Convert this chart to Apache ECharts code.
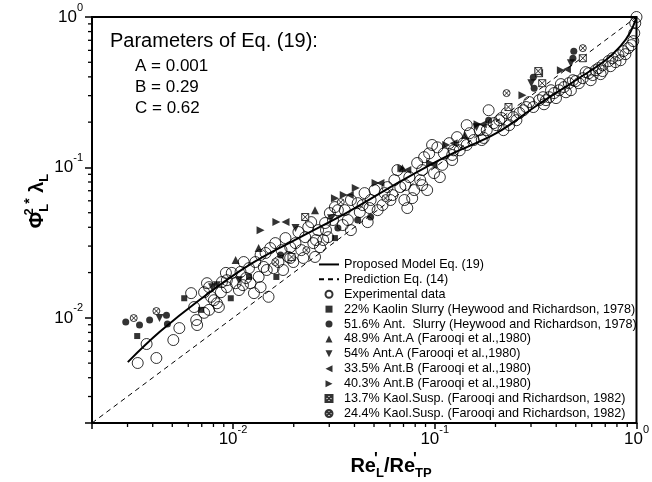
<!DOCTYPE html>
<html>
<head>
<meta charset="utf-8">
<script src="https://cdn.jsdelivr.net/npm/echarts@6/dist/echarts.min.js"></script>
<style>html,body{margin:0;padding:0;background:#fff;}#c{width:652px;height:482px;}</style>
</head>
<body>
<div id="c"></div>
<script>
// ---- data ----
const xMinorTicks = [0.003,0.004,0.005,0.006,0.007,0.008,0.009,0.02,0.03,0.04,0.05,0.06,0.07,0.08,0.09,0.2,0.3,0.4,0.5,0.6,0.7,0.8,0.9];
const yMinorTicks = [0.003,0.004,0.005,0.006,0.007,0.008,0.009,0.02,0.03,0.04,0.05,0.06,0.07,0.08,0.09,0.2,0.3,0.4,0.5,0.6,0.7,0.8,0.9];

const modelCurve = [[0.00301,0.00508],[0.00432,0.00804],[0.00679,0.0131],[0.012,0.0224],[0.0211,0.0339],[0.0371,0.0505],[0.0653,0.0787],[0.115,0.119],[0.202,0.169],[0.318,0.256],[0.5,0.38],[0.703,0.516],[0.833,0.64],[0.932,0.793],[1.0,1.0]];
const predictionLine = [[0.002,0.002],[1,1]];

const expData = [
[0.00337,0.00501],[0.00417,0.00541],[0.00373,0.0067],[0.00506,0.00712],[0.00542,0.00855],
[0.0062,0.0146],[0.00642,0.0118],[0.00657,0.00967],[0.00664,0.00896],[0.00719,0.0108],
[0.00761,0.0113],[0.00743,0.017],[0.00778,0.0138],[0.00832,0.0125],[0.00871,0.0148],
[0.00881,0.0173],[0.00922,0.0199],[0.00932,0.016],[0.00851,0.0118],[0.00719,0.0148],
[0.00761,0.016],[0.00932,0.0178],[0.00986,0.0199],[0.0103,0.017],[0.0109,0.0202],
[0.0116,0.0184],[0.012,0.0214],[0.0127,0.0146],[0.0129,0.0235],[0.0134,0.0187],
[0.0142,0.0218],[0.015,0.0138],[0.0145,0.027],[0.0153,0.0291],[0.0162,0.0314],
[0.0168,0.0235],[0.0174,0.0282],[0.0182,0.0339],[0.0188,0.0254],[0.0204,0.0314],
[0.0211,0.0372],[0.0218,0.0282],[0.0228,0.0344],[0.0236,0.0401],[0.0244,0.0433],
[0.025,0.0314],[0.0255,0.0254],[0.0264,0.0383],[0.028,0.0329],[0.0286,0.0427],
[0.0296,0.0344],[0.0302,0.0497],[0.0313,0.0447],[0.032,0.0545],[0.0331,0.052],
[0.0358,0.052],[0.0384,0.0607],[0.0384,0.0383],[0.0415,0.0579],[0.0449,0.0675],
[0.0481,0.0607],[0.0503,0.0707],[0.0521,0.052],[0.0564,0.0675],[0.0583,0.074],
[0.0631,0.0823],[0.0653,0.096],[0.0675,0.074],[0.0707,0.0607],[0.0731,0.0537],
[0.0748,0.0862],[0.0791,0.0707],[0.0818,0.107],[0.0847,0.0823],[0.0886,0.117],
[0.0917,0.0707],[0.0938,0.124],[0.0992,0.0917],[0.103,0.136],[0.106,0.0862],
[0.111,0.124],[0.118,0.145],[0.124,0.13],[0.129,0.159],[0.139,0.145],
[0.149,0.169],[0.156,0.152],[0.167,0.177],[0.181,0.177],[0.185,0.24],
[0.196,0.197],[0.209,0.206],[0.219,0.177],[0.227,0.23],[0.245,0.216],
[0.263,0.23],[0.284,0.252],[0.308,0.252],[0.329,0.28],[0.344,0.293],
[0.369,0.293],[0.39,0.312],[0.413,0.326],[0.437,0.342],[0.462,0.363],
[0.484,0.38],[0.5,0.375],[0.542,0.392],[0.58,0.423],[0.628,0.443],
[0.679,0.478],[0.727,0.509],[0.76,0.532],[0.814,0.557],[0.861,0.593],
[0.911,0.621],[0.964,0.691],[0.975,0.781],[0.986,0.91],[1.0,1.0],
[0.679,0.437],[0.607,0.411],[0.518,0.363],
[0.0113,0.0235],[0.0137,0.0262],[0.0159,0.0214],[0.0192,0.0295],[0.0223,0.025],
[0.027,0.0295],[0.035,0.0414],[0.0425,0.0505],[0.0465,0.0433],[0.0603,0.0607],
[0.0773,0.0625],[0.0866,0.096],[0.109,0.104],[0.133,0.13],[0.144,0.191],
[0.175,0.157],[0.202,0.191],[0.234,0.191],[0.275,0.24],[0.294,0.272],
[0.356,0.28],[0.377,0.326],[0.422,0.358],[0.447,0.316],[0.56,0.43],
[0.649,0.457],[0.787,0.501],[0.881,0.566],[0.943,0.65],[0.122,0.112],
[0.097,0.141],[0.0715,0.0763],[0.0551,0.0562],[0.0439,0.0562],[0.0289,0.0383],
[0.0199,0.0235],[0.0177,0.0208],[0.0122,0.017],[0.0107,0.0153],[0.0137,0.016],
[0.348,0.263],[0.399,0.289],[0.473,0.326],[0.593,0.38],[0.664,0.417],
[0.743,0.471],[0.833,0.516],[0.254,0.206],[0.214,0.213],[0.171,0.152],
[0.144,0.141],[0.122,0.121],[0.0866,0.0763],[0.0617,0.0655],[0.0475,0.0537],
[0.0371,0.0447],[0.0258,0.0329],[0.0192,0.025],[0.0147,0.0208],[0.0112,0.0165],
[0.00804,0.0131]
];
const kaolin22 = [[0.00335,0.00757],[0.00573,0.0135],[0.00695,0.0113],[0.00975,0.0135],[0.012,0.0187],[0.0164,0.0187],[0.032,0.0339]];
const ant516 = [[0.00294,0.00938],[0.00344,0.00896],[0.00386,0.00967],[0.00468,0.0104],[0.00473,0.00909],[0.0172,0.0262],[0.0331,0.0395],[0.0415,0.0447],[0.0481,0.0468],[0.185,0.206],[0.308,0.398],[0.311,0.336],[0.484,0.532],[0.489,0.593]];
const antA489 = [[0.0134,0.0291],[0.0103,0.0242],[0.0255,0.052],[0.0691,0.0989],[0.141,0.164]];
const antA54 = [[0.00432,0.00997],[0.00787,0.016],[0.00832,0.0165],[0.0107,0.0178],[0.0204,0.0395],[0.0306,0.046],[0.301,0.363],[0.473,0.493],[0.161,0.185]];
const antB335 = [[0.0182,0.0433],[0.0379,0.0655],[0.0538,0.0787],[0.0731,0.096],[0.0981,0.104],[0.124,0.145],[0.173,0.194],[0.452,0.45]];
const antB403 = [[0.0137,0.0383],[0.0164,0.0433],[0.032,0.0625],[0.0354,0.0655],[0.0406,0.0729],[0.0509,0.0787],[0.0683,0.0989],[0.272,0.302],[0.114,0.141],[0.163,0.194],[0.422,0.443],[0.0948,0.107]];
const kaol137 = [[0.0228,0.0468],[0.0195,0.0254],[0.232,0.252],[0.329,0.423],[0.341,0.363],[0.542,0.532],[0.326,0.437]];
const kaol244 = [[0.00322,0.00997],[0.00417,0.0111],[0.0231,0.0282],[0.0162,0.0235],[0.0342,0.0588],[0.057,0.0625],[0.227,0.312],[0.542,0.621]];

const seriesNames = [
  'Proposed Model Eq. (19)',
  'Prediction Eq. (14)',
  'Experimental data',
  '22% Kaolin Slurry (Heywood and Richardson, 1978)',
  '51.6% Ant.  Slurry (Heywood and Richardson, 1978)',
  '48.9% Ant.A (Farooqi et al.,1980)',
  '54% Ant.A (Farooqi et al.,1980)',
  '33.5% Ant.B (Farooqi et al.,1980)',
  '40.3% Ant.B (Farooqi et al.,1980)',
  '13.7% Kaol.Susp. (Farooqi and Richardson, 1982)',
  '24.4% Kaol.Susp. (Farooqi and Richardson, 1982)'
];

// ---- chart ----
const FONT = "'Liberation Sans', Arial, Helvetica, sans-serif";
const AXIS_MIN = 0.002, AXIS_MAX = 1;
const SYM = {
  square: 'path://M0,0L10,0L10,10L0,10Z',
  triUp: 'path://M5,0L10,10L0,10Z',
  triDown: 'path://M0,0L10,0L5,10Z',
  triLeft: 'path://M10,0L10,10L0,5Z',
  triRight: 'path://M0,0L0,10L10,5Z',
  boxX: 'path://M0,0L10,0L10,10L0,10Z M0,0L10,10 M10,0L0,10',
  circX: 'path://M10,5A5,5,0,1,1,0,5A5,5,0,1,1,10,5Z M1.5,1.5L8.5,8.5 M8.5,1.5L1.5,8.5'
};

function powLabel(v) {
  const l = Math.log10(v);
  const e = Math.round(l);
  if (Math.abs(l - e) > 1e-6) return '';
  return '{a|10}{b|' + e + '}';
}
const labelRich = {
  a: {fontSize: 17, fontFamily: FONT, color: '#000', lineHeight: 30},
  b: {fontSize: 11, fontFamily: FONT, color: '#000', lineHeight: 8, verticalAlign: 'top'}
};

function scatter(name, data, symbol, size, filled, z) {
  return {
    name: name, type: 'scatter', data: data, symbol: symbol, symbolSize: size, z: z || 3,
    itemStyle: filled === 'open' ? {color: 'rgba(0,0,0,0)', borderColor: '#000', borderWidth: 1}
             : filled === 'white' ? {color: '#fff', borderColor: '#000', borderWidth: 1}
             : {color: '#000', borderColor: '#000', borderWidth: 0},
    silent: true
  };
}

function minorTickSeries(values, isX) {
  return {
    type: 'custom', silent: true, clip: false, z: 10,
    data: values.map(v => isX ? [v, AXIS_MIN] : [AXIS_MIN, v]),
    renderItem: function (params, api) {
      const p = api.coord([api.value(0), api.value(1)]);
      return {
        type: 'line',
        shape: isX ? {x1: p[0], y1: p[1], x2: p[0], y2: p[1] + 4} : {x1: p[0], y1: p[1], x2: p[0] - 4, y2: p[1]},
        style: {stroke: '#000', lineWidth: 1.3}
      };
    }
  };
}

const noSymbol = {color: 'rgba(0,0,0,0)', borderColor: 'rgba(0,0,0,0)', borderWidth: 0};
const legendData = seriesNames.map((n, i) => i < 2 ? {name: n, itemStyle: noSymbol} : {name: n});

const chart = echarts.init(document.getElementById('c'), null, {renderer: 'canvas'});
chart.setOption({
  animation: false,
  backgroundColor: '#fff',
  textStyle: {fontFamily: FONT},
  grid: {left: 92, right: 9, top: 17, bottom: 59, show: true, borderColor: '#000', borderWidth: 2, containLabel: false},
  xAxis: {
    type: 'log', logBase: 10, min: AXIS_MIN, max: AXIS_MAX,
    axisLine: {show: true, lineStyle: {color: '#000', width: 2}},
    axisTick: {show: true, inside: false, length: 6, lineStyle: {color: '#000', width: 1.5}},
    splitLine: {show: false},
    axisLabel: {show: true, margin: 1, formatter: powLabel, rich: labelRich, showMinLabel: true, showMaxLabel: true, hideOverlap: false}
  },
  yAxis: {
    type: 'log', logBase: 10, min: AXIS_MIN, max: AXIS_MAX,
    axisLine: {show: true, lineStyle: {color: '#000', width: 2}},
    axisTick: {show: true, inside: false, length: 7, lineStyle: {color: '#000', width: 1.5}},
    splitLine: {show: false},
    axisLabel: {show: true, margin: 9, formatter: powLabel, rich: labelRich, showMinLabel: true, showMaxLabel: true, hideOverlap: false}
  },
  legend: {
    orient: 'vertical', left: 318, top: 257, padding: 0, itemGap: 0,
    itemWidth: 20, itemHeight: 7,
    selectedMode: false,
    textStyle: {fontSize: 12.6, fontFamily: FONT, color: '#000', lineHeight: 14.9},
    data: legendData
  },
  graphic: [
    {type: 'text', left: 110, top: 31, style: {text: 'Parameters of Eq. (19):', fontSize: 20, fontFamily: FONT, fill: '#000'}},
    {type: 'text', left: 135, top: 58, style: {text: 'A = 0.001', fontSize: 17, fontFamily: FONT, fill: '#000'}},
    {type: 'text', left: 135, top: 79, style: {text: 'B = 0.29', fontSize: 17, fontFamily: FONT, fill: '#000'}},
    {type: 'text', left: 135, top: 100, style: {text: 'C = 0.62', fontSize: 17, fontFamily: FONT, fill: '#000'}},
    {type: 'text', x: 37, y: 201, rotation: Math.PI / 2,
      style: {
        text: '{p|Φ}{s0|2}{l|L}{st|*}{p| λ}{l|L}', align: 'center', verticalAlign: 'middle',
        rich: {
          p: {fontSize: 20, fontWeight: 'bold', fontFamily: FONT, fill: '#000', lineHeight: 28},
          s0: {fontSize: 13, fontWeight: 'bold', fontFamily: FONT, fill: '#000', lineHeight: 13, verticalAlign: 'top', width: 0},
          st: {fontSize: 14, fontWeight: 'bold', fontFamily: FONT, fill: '#000', lineHeight: 16, verticalAlign: 'top'},
          l: {fontSize: 13, fontWeight: 'bold', fontFamily: FONT, fill: '#000', lineHeight: 13, verticalAlign: 'bottom'}
        }
      }},
    {type: 'text', x: 391, y: 466,
      style: {
        text: "{b|Re}{s0|'}{l|L}{b|/Re}{s0|'}{l|TP}", align: 'center', verticalAlign: 'middle',
        rich: {
          b: {fontSize: 20, fontWeight: 'bold', fontFamily: FONT, fill: '#000', lineHeight: 28},
          s0: {fontSize: 16, fontWeight: 'bold', fontFamily: FONT, fill: '#000', lineHeight: 14, verticalAlign: 'top', width: 0},
          l: {fontSize: 13, fontWeight: 'bold', fontFamily: FONT, fill: '#000', lineHeight: 13, verticalAlign: 'bottom'}
        }
      }}
  ],
  series: [
    scatter(seriesNames[2], expData, 'circle', 11, 'open', 2),
    {name: seriesNames[0], type: 'line', data: modelCurve, smooth: 0.4, symbol: 'none', z: 4,
     lineStyle: {color: '#000', width: 2}, itemStyle: {color: '#000'}, silent: true},
    {name: seriesNames[1], type: 'line', data: predictionLine, symbol: 'none', z: 4,
     lineStyle: {color: '#000', width: 1, type: [5, 4]}, itemStyle: {color: '#000'}, silent: true},
    scatter(seriesNames[3], kaolin22, SYM.square, 6, 'fill', 5),
    scatter(seriesNames[4], ant516, 'circle', 7, 'fill', 5),
    scatter(seriesNames[5], antA489, SYM.triUp, 8, 'fill', 5),
    scatter(seriesNames[6], antA54, SYM.triDown, 8, 'fill', 5),
    scatter(seriesNames[7], antB335, SYM.triLeft, 8, 'fill', 5),
    scatter(seriesNames[8], antB403, SYM.triRight, 8, 'fill', 5),
    scatter(seriesNames[9], kaol137, SYM.boxX, 7, 'white', 6),
    scatter(seriesNames[10], kaol244, SYM.circX, 7, 'white', 6),
    minorTickSeries(xMinorTicks, true),
    minorTickSeries(yMinorTicks, false)
  ]
});
</script>
</body>
</html>
